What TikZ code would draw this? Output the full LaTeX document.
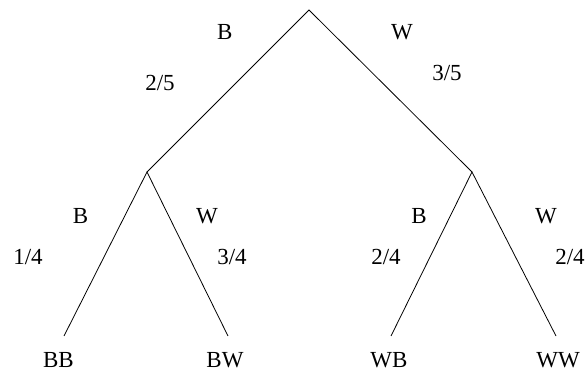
\documentclass[tikz,border=0pt]{standalone}
\usepackage{fontspec}
\setmainfont{Liberation Serif}
\begin{document}
\begin{tikzpicture}[x=1pt,y=-1pt,
  lbl/.style={inner sep=0pt,anchor=base,font=\fontsize{23}{27}\selectfont},
  leaf/.style={lbl,text depth=0pt},
  edge/.style={draw=black,line width=0.8pt}]
\useasboundingbox (0,0) rectangle (587,371);
% tree points
\coordinate (root) at (309,10);
\coordinate (l) at (147,172);
\coordinate (r) at (472,172);
\coordinate (bb) at (64,336);
\coordinate (bw) at (228,336);
\coordinate (wb) at (391,336);
\coordinate (ww) at (556,336);
\draw[edge] (l) -- (root) -- (r);
\draw[edge] (bb) -- (l) -- (bw);
\draw[edge] (wb) -- (r) -- (ww);
% labels
\node[lbl] (tB) at (224.7,40) {B};
\node[lbl] (tW) at (402,40) {W};
\node[lbl] (p25) at (160,91) {2/5};
\node[lbl] (p35) at (447,81) {3/5};
\node[lbl] (lB) at (80.5,224) {B};
\node[lbl] (lW) at (207,224) {W};
\node[lbl] (p14) at (28,265) {1/4};
\node[lbl] (p34) at (232,265) {3/4};
\node[lbl] (rB) at (419,224) {B};
\node[lbl] (rW) at (546,224) {W};
\node[lbl] (p24a) at (386,265) {2/4};
\node[lbl] (p24b) at (570,265) {2/4};
\node[leaf] (nBB) at (58.5,367.5) {BB};
\node[leaf] (nBW) at (225,367.5) {BW};
\node[leaf] (nWB) at (389,367.5) {WB};
\node[leaf] (nWW) at (558,367.5) {WW};
\end{tikzpicture}
\end{document}
